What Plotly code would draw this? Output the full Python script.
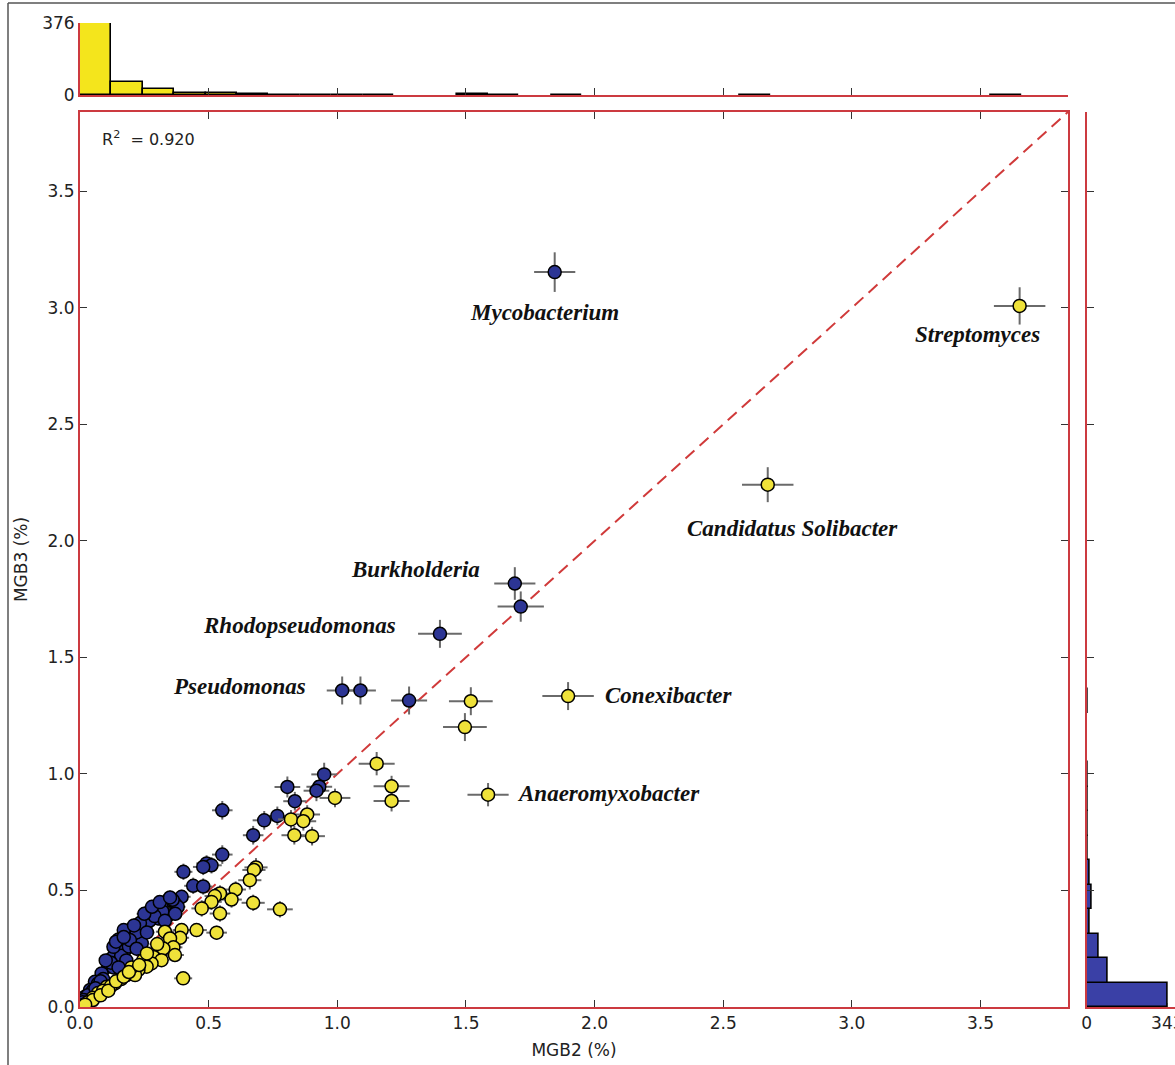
import plotly.graph_objects as go

# ---------------- data ----------------
# blue: MGB3 > MGB2 ; yellow: MGB2 > MGB3   (values in %)
blue_x = [1.845, 1.690, 1.713, 1.399, 1.019, 1.090, 1.279,
          0.949, 0.930, 0.919, 0.806, 0.835, 0.767, 0.716, 0.673, 0.553, 0.553,
          0.492, 0.511, 0.479, 0.402, 0.440, 0.479, 0.395, 0.369, 0.343, 0.317,
          0.291, 0.278, 0.304, 0.343, 0.380, 0.259, 0.240, 0.214, 0.188, 0.201,
          0.240, 0.136, 0.175, 0.123, 0.155, 0.110, 0.084, 0.058, 0.039, 0.019,
          0.070, 0.090, 0.050, 0.030, 0.015, 0.010, 0.130, 0.160, 0.120, 0.190,
          0.220, 0.270, 0.320, 0.360, 0.290, 0.130, 0.194, 0.233, 0.150, 0.170,
          0.100, 0.140, 0.170, 0.210, 0.250, 0.280, 0.310, 0.350, 0.370, 0.330,
          0.260, 0.220, 0.180, 0.150, 0.080, 0.060]
blue_y = [3.153, 1.817, 1.718, 1.601, 1.358, 1.358, 1.315,
          0.998, 0.945, 0.928, 0.944, 0.883, 0.820, 0.801, 0.737, 0.844, 0.654,
          0.616, 0.608, 0.601, 0.580, 0.520, 0.517, 0.473, 0.444, 0.458, 0.430,
          0.416, 0.401, 0.380, 0.394, 0.430, 0.359, 0.344, 0.301, 0.323, 0.273,
          0.273, 0.251, 0.244, 0.209, 0.201, 0.173, 0.144, 0.108, 0.073, 0.044,
          0.100, 0.120, 0.070, 0.050, 0.030, 0.020, 0.170, 0.220, 0.190, 0.260,
          0.320, 0.370, 0.410, 0.460, 0.390, 0.258, 0.287, 0.360, 0.290, 0.330,
          0.200, 0.280, 0.300, 0.350, 0.400, 0.430, 0.450, 0.470, 0.400, 0.370,
          0.320, 0.250, 0.200, 0.170, 0.110, 0.080]
blue_ex = [0.080, 0.080, 0.090, 0.085, 0.060, 0.060, 0.070,
           0.050, 0.050, 0.050, 0.050, 0.045, 0.045, 0.045, 0.040, 0.040, 0.040,
           0.040, 0.040, 0.040, 0.035, 0.035, 0.035, 0.035, 0.030, 0.030, 0.030,
           0.030, 0.030, 0.030, 0.030, 0.030, 0.030, 0.030, 0.030, 0.030, 0.025,
           0.025, 0.025, 0.025, 0.025, 0.025, 0.020, 0.020, 0.020, 0.015, 0.010,
           0.015, 0.020, 0.015, 0.010, 0.010, 0.010, 0.025, 0.025, 0.025, 0.025,
           0.030, 0.030, 0.030, 0.030, 0.030, 0.025, 0.025, 0.030, 0.025, 0.025,
           0.020, 0.025, 0.025, 0.030, 0.030, 0.030, 0.030, 0.030, 0.030, 0.030,
           0.030, 0.025, 0.025, 0.025, 0.020, 0.015]
blue_ey = [0.085, 0.070, 0.065, 0.060, 0.060, 0.060, 0.060,
           0.050, 0.045, 0.045, 0.045, 0.040, 0.040, 0.040, 0.040, 0.040, 0.040,
           0.035, 0.035, 0.035, 0.035, 0.035, 0.035, 0.030, 0.030, 0.030, 0.030,
           0.030, 0.030, 0.030, 0.030, 0.030, 0.030, 0.030, 0.025, 0.025, 0.025,
           0.025, 0.025, 0.025, 0.020, 0.020, 0.020, 0.020, 0.020, 0.015, 0.010,
           0.015, 0.020, 0.015, 0.010, 0.010, 0.010, 0.020, 0.025, 0.020, 0.025,
           0.030, 0.030, 0.030, 0.030, 0.030, 0.025, 0.025, 0.030, 0.025, 0.025,
           0.020, 0.025, 0.025, 0.030, 0.030, 0.030, 0.030, 0.030, 0.030, 0.030,
           0.025, 0.025, 0.020, 0.020, 0.015, 0.015]

yellow_x = [3.652, 2.673, 1.897, 1.519, 1.496, 1.586, 1.153, 1.211, 1.211,
            0.991, 0.883, 0.820, 0.868, 0.833, 0.902, 0.684, 0.676, 0.660, 0.605,
            0.544, 0.524, 0.589, 0.511, 0.473, 0.673, 0.777, 0.544, 0.453, 0.531,
            0.395, 0.330, 0.389, 0.350, 0.363, 0.324, 0.369, 0.285, 0.317, 0.278,
            0.246, 0.259, 0.227, 0.181, 0.214, 0.136, 0.104, 0.401, 0.070, 0.050,
            0.013, 0.300, 0.260, 0.200, 0.160, 0.120, 0.090, 0.030,
            0.050, 0.080, 0.110, 0.140, 0.170, 0.190, 0.230, 0.020]
yellow_y = [3.008, 2.241, 1.334, 1.312, 1.201, 0.911, 1.044, 0.947, 0.884,
            0.897, 0.826, 0.805, 0.797, 0.737, 0.733, 0.599, 0.588, 0.544, 0.504,
            0.487, 0.476, 0.461, 0.451, 0.423, 0.447, 0.419, 0.401, 0.330, 0.319,
            0.330, 0.323, 0.297, 0.294, 0.256, 0.251, 0.223, 0.215, 0.201, 0.187,
            0.201, 0.173, 0.159, 0.137, 0.137, 0.101, 0.087, 0.123, 0.060, 0.040,
            0.009, 0.270, 0.230, 0.170, 0.120, 0.090, 0.070, 0.020,
            0.030, 0.050, 0.070, 0.110, 0.130, 0.150, 0.180, 0.010]
yellow_ex = [0.100, 0.100, 0.100, 0.085, 0.085, 0.080, 0.070, 0.070, 0.070,
             0.060, 0.050, 0.050, 0.050, 0.050, 0.050, 0.045, 0.045, 0.045, 0.040,
             0.040, 0.040, 0.040, 0.040, 0.040, 0.045, 0.050, 0.040, 0.040, 0.040,
             0.035, 0.035, 0.035, 0.035, 0.035, 0.030, 0.035, 0.030, 0.030, 0.030,
             0.030, 0.030, 0.025, 0.025, 0.025, 0.020, 0.020, 0.035, 0.015, 0.015,
             0.010, 0.030, 0.030, 0.025, 0.025, 0.020, 0.020, 0.010,
             0.015, 0.015, 0.020, 0.020, 0.025, 0.025, 0.025, 0.010]
yellow_ey = [0.080, 0.075, 0.060, 0.060, 0.060, 0.050, 0.050, 0.045, 0.045,
             0.040, 0.040, 0.040, 0.040, 0.040, 0.040, 0.040, 0.040, 0.040, 0.035,
             0.035, 0.035, 0.035, 0.035, 0.035, 0.035, 0.035, 0.035, 0.030, 0.030,
             0.030, 0.030, 0.030, 0.030, 0.030, 0.030, 0.030, 0.025, 0.025, 0.025,
             0.025, 0.025, 0.025, 0.020, 0.020, 0.020, 0.020, 0.025, 0.015, 0.010,
             0.010, 0.030, 0.025, 0.020, 0.020, 0.020, 0.015, 0.010,
             0.010, 0.015, 0.015, 0.020, 0.020, 0.020, 0.025, 0.010]

# labelled genera: (name, series, index in that series)
labels = [("Mycobacterium", "blue", 0), ("Burkholderia", "blue", 1),
          ("Rhodopseudomonas", "blue", 3), ("Pseudomonas", "blue", 4),
          ("Streptomyces", "yellow", 0), ("Candidatus Solibacter", "yellow", 1),
          ("Conexibacter", "yellow", 2), ("Anaeromyxobacter", "yellow", 5)]

r2_text = "R<sup>2</sup>  = 0.920"

# marginal histograms (30 bins each)
top_hist_range = [0.0, 3.66]       # MGB2 bins
top_hist_counts = [376, 70, 31, 12, 12, 6, 2, 2, 2, 2, 0, 0, 3, 2, 0,
                   2, 0, 0, 0, 0, 0, 1, 0, 0, 0, 0, 0, 0, 0, 1]
right_hist_range = [0.0, 3.15]     # MGB3 bins
right_hist_counts = [343, 88, 50, 14, 21, 11, 3, 4, 4, 4, 1, 0, 5, 0, 0,
                     1, 1, 2, 0, 0, 0, 1, 0, 0, 0, 0, 0, 0, 1, 1]

main_ticks = [0.0, 0.5, 1.0, 1.5, 2.0, 2.5, 3.0, 3.5]
axis_max = 3.84

# ---------------- styling ----------------
W, H = 1175, 1065
RED = "#cc3a40"
BLUE_M = "#2c3594"
YEL_M = "#efe23a"
BLUE_B = "#3a40a6"
YEL_B = "#f4e51c"
ERR = "#6a6a6a"
TXT = "#222222"
TICKFONT = dict(family="DejaVu Sans", size=17, color=TXT)


def px_x(p):
    return p / W


def px_y(p):
    return (H - p) / H


def bins(rng, counts):
    n = len(counts)
    w = (rng[1] - rng[0]) / n
    centers = [rng[0] + w * (i + 0.5) for i in range(n)]
    vals = [c if c > 0 else None for c in counts]
    return centers, vals, w


fig = go.Figure()

# top histogram (MGB2)
tc, tv, tw = bins(top_hist_range, top_hist_counts)
fig.add_trace(go.Bar(x=tc, y=tv, width=tw, marker=dict(color=YEL_B, line=dict(color="black", width=1.6)),
                     xaxis="x2", yaxis="y2", showlegend=False, hoverinfo="skip"))
# right histogram (MGB3)
rc, rv, rw = bins(right_hist_range, right_hist_counts)
fig.add_trace(go.Bar(y=rc, x=rv, width=rw, orientation="h",
                     marker=dict(color=BLUE_B, line=dict(color="black", width=1.6)),
                     xaxis="x3", yaxis="y3", showlegend=False, hoverinfo="skip"))

# scatter with error bars
for xs, ys, ex, ey, col in [(blue_x, blue_y, blue_ex, blue_ey, BLUE_M),
                            (yellow_x, yellow_y, yellow_ex, yellow_ey, YEL_M)]:
    fig.add_trace(go.Scatter(
        x=xs, y=ys, mode="markers",
        marker=dict(size=13, color=col, line=dict(color="black", width=1.5)),
        error_x=dict(type="data", array=ex, color=ERR, thickness=2, width=0),
        error_y=dict(type="data", array=ey, color=ERR, thickness=2, width=0),
        showlegend=False, xaxis="x", yaxis="y"))

# 1:1 line
fig.add_shape(type="line", xref="x", yref="y", x0=0, y0=0, x1=axis_max, y1=axis_max,
              line=dict(color="#d03a3a", width=2, dash="12px,7px"), layer="below")

# genus labels
series = {"blue": (blue_x, blue_y), "yellow": (yellow_x, yellow_y)}
offsets = {
    "Mycobacterium": ("center", -10, -40),
    "Burkholderia": ("right", -33, 14),
    "Rhodopseudomonas": ("right", -42, 8),
    "Pseudomonas": ("right", -34, 4),
    "Streptomyces": ("right", 22, -29),
    "Candidatus Solibacter": ("center", 25, -44),
    "Conexibacter": ("left", 35, 1),
    "Anaeromyxobacter": ("left", 27, 1),
}
for name, s, i in labels:
    xa, dx, dy = offsets[name]
    fig.add_annotation(x=series[s][0][i], y=series[s][1][i], xref="x", yref="y",
                       text=name, showarrow=False, xanchor=xa, yanchor="middle",
                       xshift=dx, yshift=dy,
                       font=dict(family="Liberation Serif", size=23, color="#111111",
                                 weight="bold", style="italic"))

fig.add_annotation(x=px_x(100), y=px_y(138), xref="paper", yref="paper", text=r2_text,
                   showarrow=False, xanchor="left", yanchor="middle",
                   font=dict(family="DejaVu Sans", size=16, color=TXT))

# outer frame (top + left edges of the picture)
fig.add_shape(type="line", xref="paper", yref="paper", x0=px_x(8), x1=1.0, y0=px_y(3), y1=px_y(3),
              line=dict(color="#555555", width=1.5))
fig.add_shape(type="line", xref="paper", yref="paper", x0=px_x(8), x1=px_x(8), y0=0, y1=px_y(3),
              line=dict(color="#555555", width=1.5))

main_dom_x = [px_x(80), px_x(1068)]
main_dom_y = [px_y(1007), px_y(112)]
tick_text = ["%.1f" % t for t in main_ticks]
common = dict(showgrid=False, zeroline=False, showline=True, linecolor=RED, linewidth=2,
              ticks="inside", ticklen=7, tickcolor="#333333", tickwidth=1,
              automargin=False, ticklabeloverflow="allow")

fig.update_layout(
    width=W, height=H, margin=dict(l=0, r=0, t=0, b=0, pad=0, autoexpand=False),
    paper_bgcolor="white", plot_bgcolor="white", bargap=0,
    xaxis=dict(domain=main_dom_x, range=[0, axis_max], tickvals=main_ticks, ticktext=tick_text,
               mirror="allticks", tickfont=TICKFONT, anchor="y",
               title=dict(text="MGB2 (%)", font=dict(family="DejaVu Sans", size=17, color=TXT), standoff=12),
               **common),
    yaxis=dict(domain=main_dom_y, range=[0, axis_max], tickvals=main_ticks, ticktext=tick_text,
               mirror="allticks", tickfont=TICKFONT, anchor="x",
               title=dict(text="MGB3 (%)", font=dict(family="DejaVu Sans", size=17, color=TXT), standoff=16),
               **common),
    xaxis2=dict(domain=main_dom_x, range=[0, axis_max], tickvals=main_ticks, showticklabels=False,
                anchor="y2", **common),
    yaxis2=dict(domain=[px_y(95), px_y(23)], range=[0, max(top_hist_counts)],
                tickvals=[0, max(top_hist_counts)], tickfont=TICKFONT, anchor="x2",
                **{**common, "ticklen": 4}),
    xaxis3=dict(domain=[px_x(1086.7), 1.0], range=[0, max(right_hist_counts) * (1175 - 1086.7) / 80.6],
                tickvals=[0, max(right_hist_counts)], tickfont=TICKFONT, anchor="y3",
                **{**common, "ticklen": 4}),
    yaxis3=dict(domain=main_dom_y, range=[0, axis_max], tickvals=main_ticks, showticklabels=False,
                anchor="x3", **common),
)

fig.write_html("out.html", config={"displayModeBar": False},
               post_script="document.body.style.margin='0px';document.body.style.overflow='hidden';")
